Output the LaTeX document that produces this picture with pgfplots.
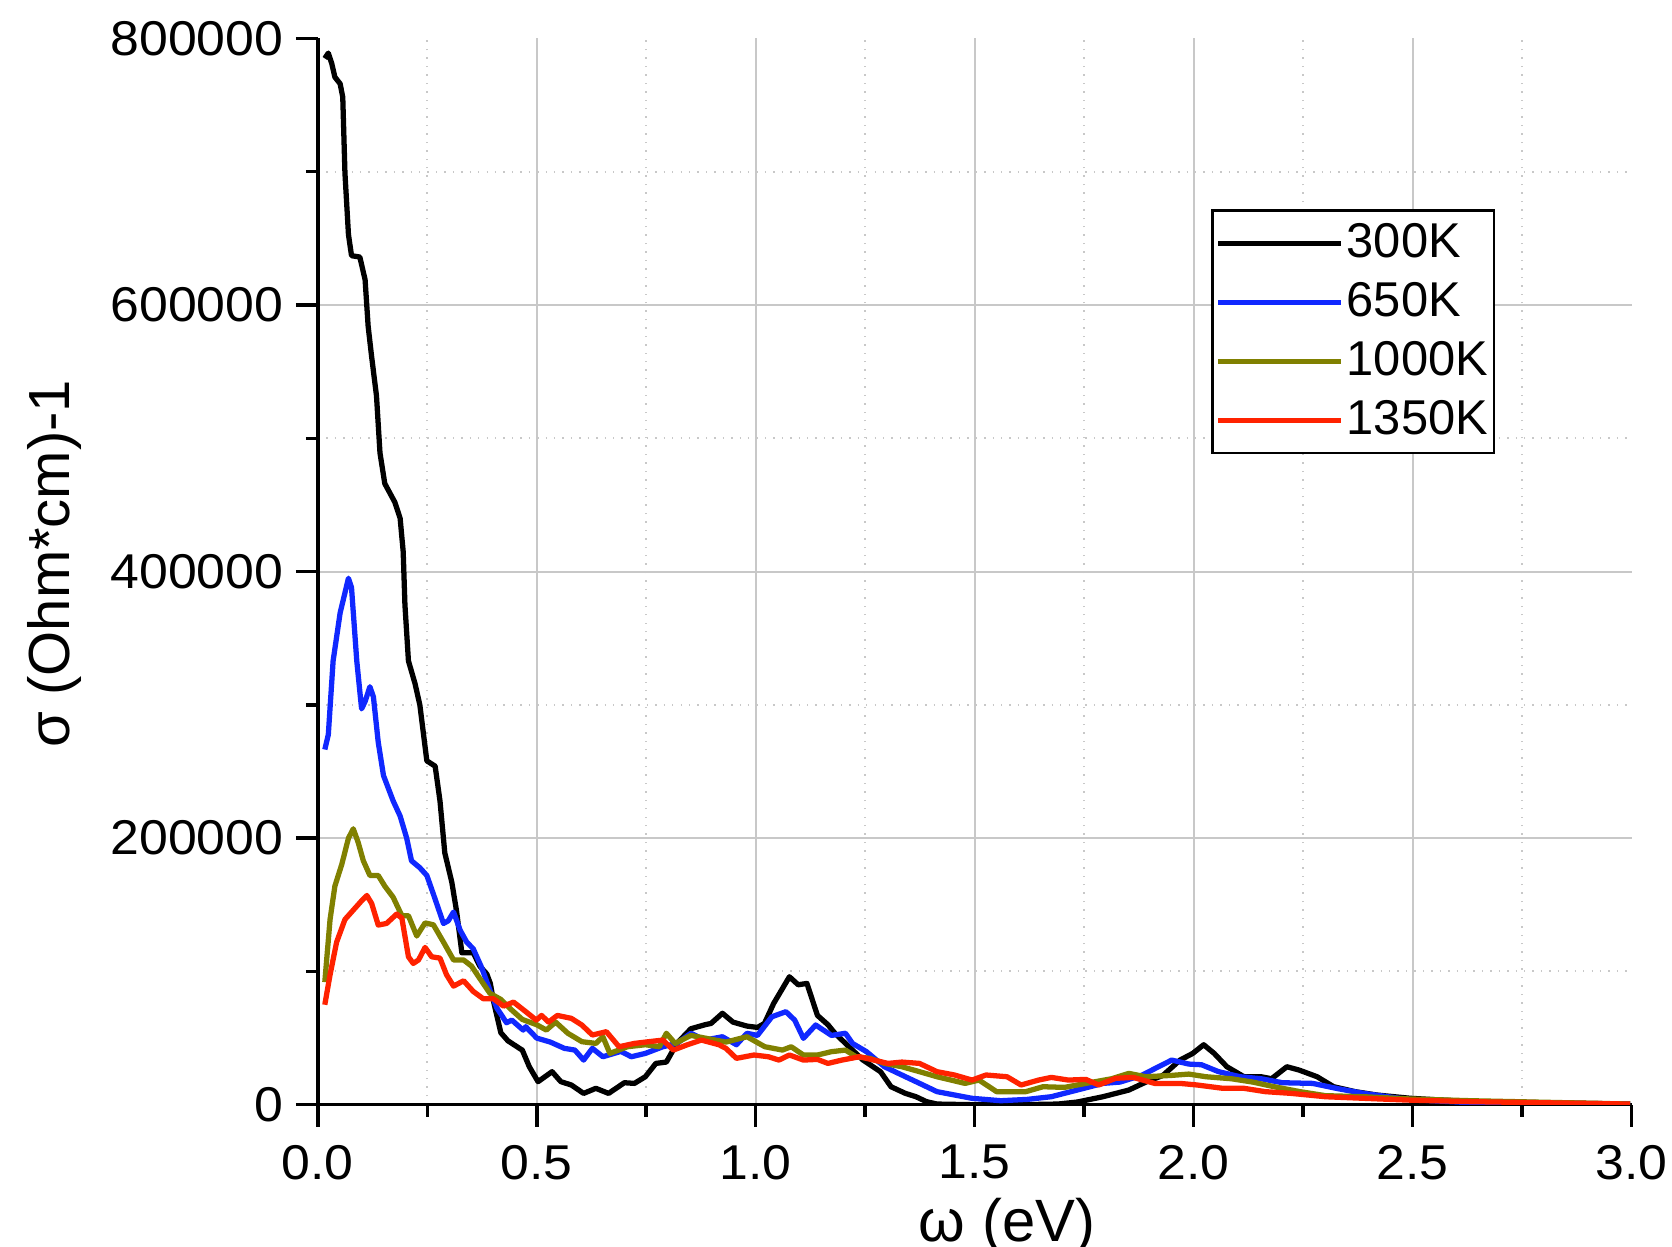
\documentclass[border=0pt]{standalone}
\usepackage{fontspec}
\setmainfont{Liberation Sans}
\newfontfamily\tickfont[FakeStretch=1.06]{Liberation Sans}
\usepackage{pgfplots}
\pgfplotsset{compat=1.18}

\definecolor{c300}{RGB}{0,0,0}
\definecolor{c650}{RGB}{16,40,255}
\definecolor{c1000}{RGB}{128,128,0}
\definecolor{c1350}{RGB}{255,34,0}
\definecolor{gridgray}{RGB}{200,200,200}

% optical conductivity sigma(omega), omega in eV, sigma in (Ohm*cm)^-1
\pgfplotstableread{
w s
0.016 785000
0.024 789000
0.032 781000
0.039 771000
0.051 766000
0.057 756000
0.062 699000
0.070 653000
0.077 637000
0.096 636000
0.108 619000
0.115 584000
0.123 561000
0.134 532000
0.142 489000
0.153 466000
0.176 452000
0.188 440000
0.195 415000
0.199 375000
0.207 333000
0.222 316000
0.233 300000
0.249 258000
0.268 254000
0.279 228000
0.290 189000
0.306 167000
0.317 145000
0.329 114000
0.355 114000
0.370 104000
0.386 98000
0.394 91000
0.401 78000
0.418 54000
0.434 48000
0.462 42000
0.467 41000
0.483 28500
0.503 17300
0.535 24800
0.555 17300
0.579 14800
0.607 8500
0.635 12300
0.664 8500
0.700 16500
0.723 16000
0.748 21000
0.772 31000
0.796 32000
0.820 46000
0.852 57000
0.884 60000
0.898 61000
0.924 68600
0.948 62000
0.980 59000
1.004 58000
1.020 61000
1.041 76000
1.077 96000
1.097 90000
1.117 91000
1.141 67000
1.165 60000
1.181 53600
1.213 43500
1.245 33500
1.285 24800
1.309 13500
1.342 8500
1.366 6000
1.390 2300
1.414 500
1.500 0
1.600 0
1.690 500
1.734 2000
1.793 6000
1.852 11000
1.891 17000
1.930 22000
1.969 33500
1.998 38500
2.023 45000
2.047 38500
2.076 28500
2.115 21000
2.154 21000
2.178 19500
2.213 28500
2.241 26000
2.282 21000
2.320 13500
2.369 9800
2.418 7300
2.496 4800
2.634 2300
2.997 500
}\tabA

\pgfplotstableread{
w s
0.016 266500
0.024 277600
0.035 333000
0.051 369000
0.070 395000
0.077 388000
0.089 333000
0.100 297000
0.108 302500
0.119 313600
0.127 306000
0.138 272000
0.150 247000
0.172 228000
0.188 216600
0.203 200000
0.214 183000
0.233 177800
0.249 172000
0.264 158000
0.287 136000
0.298 138000
0.310 144600
0.325 131000
0.340 122000
0.355 117000
0.374 103000
0.393 86000
0.409 72500
0.431 61500
0.443 63500
0.469 56000
0.475 58500
0.500 50000
0.531 47000
0.563 42300
0.587 41000
0.607 33500
0.627 42300
0.651 36000
0.692 40000
0.716 36000
0.748 38500
0.788 43500
0.820 46000
0.852 53600
0.884 48500
0.924 51000
0.956 45000
0.980 53600
1.004 52000
1.037 66000
1.069 69800
1.089 63500
1.109 49800
1.137 59800
1.173 52000
1.205 53600
1.221 46000
1.253 39800
1.294 28500
1.326 23500
1.366 17300
1.414 9800
1.494 4800
1.560 3000
1.620 4000
1.675 6000
1.734 11000
1.793 16000
1.832 17000
1.881 22000
1.920 28500
1.950 33500
1.989 30500
2.018 30000
2.057 24800
2.106 21000
2.154 19500
2.203 16500
2.272 16000
2.330 12000
2.389 8500
2.487 4000
2.634 1500
2.997 500
}\tabB

\pgfplotstableread{
w s
0.016 92000
0.028 139000
0.039 164000
0.055 180600
0.070 200000
0.081 207000
0.092 197000
0.104 183000
0.119 172000
0.138 172000
0.153 164000
0.172 155700
0.192 141800
0.207 141800
0.226 126600
0.245 136400
0.264 135000
0.287 122000
0.310 108600
0.333 108600
0.351 104000
0.370 94700
0.393 83600
0.418 79000
0.443 71000
0.467 64000
0.500 60000
0.522 56000
0.543 62000
0.571 53600
0.603 47300
0.635 46000
0.651 51000
0.667 38500
0.707 43500
0.748 45000
0.780 43500
0.796 53600
0.816 46000
0.852 52000
0.884 50000
0.932 47000
0.980 51000
1.021 43500
1.061 41000
1.081 43500
1.109 37300
1.141 37300
1.173 39800
1.205 41000
1.229 36000
1.261 34800
1.294 31000
1.334 28500
1.374 24800
1.414 21000
1.478 16000
1.510 18500
1.550 9800
1.617 9800
1.656 13500
1.705 13000
1.754 16000
1.813 19500
1.852 23500
1.891 21000
1.950 22000
1.989 23000
2.028 21000
2.086 19500
2.135 17000
2.184 13500
2.243 9800
2.301 6800
2.389 6000
2.496 4300
2.634 3000
2.997 500
}\tabC

\pgfplotstableread{
w s
0.016 75000
0.028 97500
0.043 122000
0.062 139000
0.081 146000
0.100 153000
0.112 157000
0.123 151000
0.138 134800
0.157 136000
0.180 143000
0.192 140000
0.207 111000
0.218 106000
0.230 108600
0.245 118000
0.260 111000
0.279 110000
0.294 97500
0.310 89000
0.333 93000
0.355 85000
0.378 79500
0.401 79500
0.424 74000
0.447 77000
0.475 69800
0.499 63500
0.511 67000
0.527 62000
0.547 67000
0.579 64800
0.603 59800
0.627 52300
0.659 54800
0.688 43500
0.723 46000
0.756 47300
0.788 48500
0.812 41000
0.844 45000
0.876 48500
0.916 45000
0.932 42300
0.956 34800
0.996 37300
1.029 36000
1.053 33500
1.077 37300
1.109 33500
1.141 34000
1.165 31000
1.197 33500
1.237 36000
1.270 33500
1.302 31000
1.334 32000
1.374 31000
1.414 24800
1.454 22300
1.494 18500
1.526 22300
1.574 21000
1.606 14800
1.646 18500
1.675 20500
1.714 18500
1.754 19000
1.783 14800
1.822 19800
1.862 20500
1.911 16000
1.969 16000
2.008 14800
2.067 12300
2.115 12300
2.164 9800
2.223 8500
2.301 6000
2.389 4800
2.487 3500
2.634 2300
2.997 500
}\tabD

\begin{document}
\begin{tikzpicture}
\begin{axis}[
  at={(0,0)}, anchor=south west,
  scale only axis, width=13.137cm, height=10.663cm,
  xmin=0, xmax=3, ymin=0, ymax=800000,
  axis lines*=left,
  axis line style={line width=1pt, black},
  tick align=outside,
  major tick length=0.22cm, minor tick length=0.12cm,
  every tick/.style={line width=1pt, black},
  scaled y ticks=false,
  xtick={0,0.5,1,1.5,2,2.5},
  xticklabels={0.0,0.5,1.0,1.5,2.0,2.5},
  extra x ticks={3}, extra x tick labels={3.0},
  extra x tick style={grid=none},
  ytick={0,200000,400000,600000},
  yticklabels={0,200000,400000,600000},
  extra y ticks={800000}, extra y tick labels={800000},
  extra y tick style={grid=none},
  minor xtick={0.25,0.75,...,2.75},
  minor ytick={100000,300000,500000,700000},
  grid=both,
  major grid style={gridgray, line width=0.6pt},
  minor grid style={gridgray, dotted, line width=0.6pt},
  tick label style={font=\tickfont\fontsize{13.9}{16}\selectfont},
  xticklabel style={yshift=-0.06cm},
  xlabel={ω (eV)},
  ylabel={σ (Ohm*cm)-1},
  xlabel style={font=\fontsize{17}{20}\selectfont, at={(axis description cs:0.5246,0)}, anchor=base, yshift=-1.363cm},
  ylabel style={font=\fontsize{16.5}{20}\selectfont, at={([xshift=-2.48cm]axis description cs:0,0.5075)}, anchor=base},
  legend style={at={(rel axis cs:0.680,0.840)}, anchor=north west,
    draw=black, line width=0.8pt, inner xsep=0.03cm, inner ysep=0.1cm,
    font=\fontsize{13.9}{16}\selectfont, row sep=0.137cm,
    nodes={inner xsep=0.03cm, inner ysep=0.03cm}},
  legend cell align=left,
  legend image code/.code={\path (0cm,0cm) -- (1.23cm,0cm);
    \draw[#1, line width=1.3pt] (0.04cm,0cm) -- (1.16cm,0cm);},
  every axis plot/.append style={line width=1.5pt, line join=round},
]
\addplot[c300] table[x=w, y=s] {\tabA};
\addplot[c650] table[x=w, y=s] {\tabB};
\addplot[c1000] table[x=w, y=s] {\tabC};
\addplot[c1350] table[x=w, y=s] {\tabD};
\legend{300K,650K,1000K,1350K}
\end{axis}
\pgfresetboundingbox
\path[use as bounding box] (-3.178,-1.413) rectangle (13.542,11.047);
\end{tikzpicture}
\end{document}
